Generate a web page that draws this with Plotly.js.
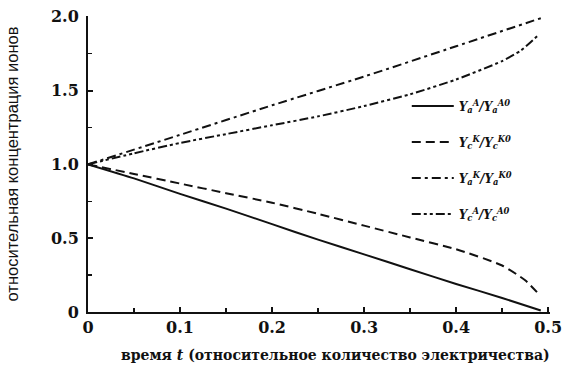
<!DOCTYPE html>
<html>
<head>
<meta charset="utf-8">
<script src="https://cdn.plot.ly/plotly-3.0.1.min.js"></script>
<style>html,body{margin:0;padding:0;background:#fff;}#chart{width:565px;height:372px;}</style>
</head>
<body>
<div id="chart"></div>
<script>
// Data
const tSolid = [0, 0.05, 0.1, 0.15, 0.2, 0.25, 0.3, 0.35, 0.4, 0.45, 0.492];
const ySolid = [1.0, 0.905, 0.80, 0.70, 0.595, 0.49, 0.39, 0.29, 0.19, 0.095, 0.01];

const tDash = [0, 0.05, 0.1, 0.15, 0.2, 0.25, 0.3, 0.35, 0.4, 0.45, 0.475, 0.49];
const yDash = [1.0, 0.935, 0.87, 0.805, 0.74, 0.665, 0.585, 0.505, 0.425, 0.315, 0.215, 0.12];

const tDashDot = [0, 0.1, 0.2, 0.3, 0.4, 0.492];
const yDashDot = [1.0, 1.20, 1.40, 1.595, 1.80, 1.99];

const tDashDotDot = [0, 0.05, 0.1, 0.15, 0.2, 0.25, 0.3, 0.35, 0.4, 0.45, 0.47, 0.49];
const yDashDotDot = [1.0, 1.075, 1.145, 1.205, 1.265, 1.325, 1.395, 1.475, 1.575, 1.70, 1.77, 1.88];

const names = [
  '<i>Y<sub>a</sub><sup>A</sup>/Y<sub>a</sub><sup>A0</sup></i>',
  '<i>Y<sub>c</sub><sup>K</sup>/Y<sub>c</sub><sup>K0</sup></i>',
  '<i>Y<sub>a</sub><sup>K</sup>/Y<sub>a</sub><sup>K0</sup></i>',
  '<i>Y<sub>c</sub><sup>A</sup>/Y<sub>c</sub><sup>A0</sup></i>'
];
const xTickVals = [0, 0.1, 0.2, 0.3, 0.4, 0.5];
const xTickText = ['0', '0.1', '0.2', '0.3', '0.4', '0.5'];
const yTickVals = [0, 0.5, 1.0, 1.5, 2.0];
const yTickText = ['0', '0.5', '1.0', '1.5', '2.0'];
const xTitle = 'время <i>t</i> (относительное количество электричества)';
const yTitle = 'относительная концентрация ионов';

const lineBase = {color: '#111', width: 2, shape: 'spline', smoothing: 0.6};
const traces = [
  {x: tSolid, y: ySolid, name: names[0], legendgroup: 'g1', line: Object.assign({}, lineBase, {dash: 'solid'})},
  {x: tDash, y: yDash, name: names[1], legendgroup: 'g2', line: Object.assign({}, lineBase, {dash: '9px,5px'})},
  {x: tDashDot, y: yDashDot, name: names[2], legendgroup: 'g3', line: Object.assign({}, lineBase, {dash: '9px,4px,3px,4px'})},
  {x: tDashDotDot, y: yDashDotDot, name: names[3], legendgroup: 'g4', line: Object.assign({}, lineBase, {dash: '9px,3px,3px,3px,3px,3px'})}
].map(t => Object.assign({type: 'scatter', mode: 'lines', hoverinfo: 'skip'}, t));

const serif = 'DejaVu Serif';
const tickFont = {family: serif, size: 16, color: '#111', weight: 'bold'};

const layout = {
  width: 565, height: 372,
  margin: {l: 88, r: 15, t: 16, b: 60},
  paper_bgcolor: '#fff', plot_bgcolor: '#fff',
  font: {family: serif},
  showlegend: true,
  legend: {
    x: 0.69, y: 0.745, xanchor: 'left', yanchor: 'top',
    bgcolor: 'rgba(0,0,0,0)',
    itemwidth: 42,
    traceorder: 'grouped', tracegroupgap: 17,
    font: {family: serif, size: 12, color: '#111', weight: 'bold'}
  },
  annotations: [{
    text: xTitle, xref: 'paper', yref: 'paper', x: 0.535, y: -0.145,
    xanchor: 'center', yanchor: 'middle', showarrow: false,
    font: {family: serif, size: 14, color: '#111', weight: 'bold'}
  }],
  xaxis: {
    range: [0, 0.502], showgrid: false, zeroline: false,
    showline: true, linecolor: '#111', linewidth: 2,
    ticks: 'inside', ticklen: 5, tickwidth: 2, tickcolor: '#111',
    tickvals: xTickVals, ticktext: xTickText, tickfont: tickFont,
    minor: {dtick: 0.05, tick0: 0, ticks: 'inside', ticklen: 4, tickwidth: 1.5, tickcolor: '#111'}
  },
  yaxis: {
    range: [0, 2.005], showgrid: false, zeroline: false,
    showline: true, linecolor: '#111', linewidth: 2,
    ticks: 'inside', ticklen: 5, tickwidth: 2, tickcolor: '#111',
    tickvals: yTickVals, ticktext: yTickText, tickfont: tickFont,
    ticklabelstandoff: 4,
    minor: {dtick: 0.25, tick0: 0, ticks: 'inside', ticklen: 4, tickwidth: 1.5, tickcolor: '#111'},
    title: {text: yTitle, standoff: 28,
            font: {family: 'Liberation Sans', size: 16.5, color: '#111'}}
  }
};

Plotly.newPlot('chart', traces, layout, {displayModeBar: false, staticPlot: true});
</script>
</body>
</html>
